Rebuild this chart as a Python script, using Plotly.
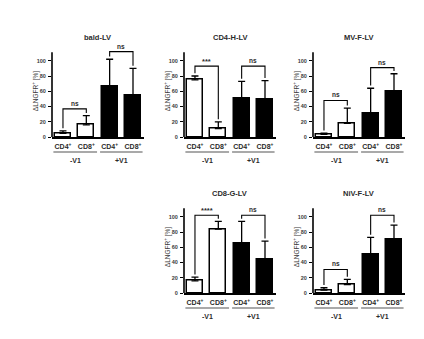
import plotly.graph_objects as go

# Transduction of CD4+ / CD8+ cells without (-V1) and with (+V1) treatment
panel_titles = ["bald-LV", "CD4-H-LV", "MV-F-LV", "CD8-G-LV", "NiV-F-LV"]
cell_types = ["CD4<sup>+</sup>", "CD8<sup>+</sup>", "CD4<sup>+</sup>", "CD8<sup>+</sup>"]
group_names = ["-V1", "+V1"]

# mean ΔLNGFR+ [%] per bar (CD4 -V1, CD8 -V1, CD4 +V1, CD8 +V1)
mean_bald = [5, 16, 66, 55]
mean_cd4h = [75, 11, 50, 49]
mean_mvf = [3.5, 18, 31, 60]
mean_cd8g = [16, 84, 65, 44]
mean_nivf = [4, 11, 50, 70]

# mean + SD (top of each error bar)
upper_bald = [8, 28, 102, 90]
upper_cd4h = [80, 20, 73, 74]
upper_mvf = [5, 38, 64, 83]
upper_cd8g = [21, 94, 94, 68]
upper_nivf = [7, 18, 73, 89]

# significance brackets: height and label for the -V1 pair and the +V1 pair
bracket_bald = [37, 112]
bracket_cd4h = [93, 93]
bracket_mvf = [48, 91]
bracket_cd8g = [102, 102]
bracket_nivf = [31, 102]

sig_bald = ["ns", "ns"]
sig_cd4h = ["***", "ns"]
sig_mvf = ["ns", "ns"]
sig_cd8g = ["****", "ns"]
sig_nivf = ["ns", "ns"]

y_ticks = [0, 20, 40, 60, 80, 100]

means = [mean_bald, mean_cd4h, mean_mvf, mean_cd8g, mean_nivf]
uppers = [upper_bald, upper_cd4h, upper_mvf, upper_cd8g, upper_nivf]
brackets = [bracket_bald, bracket_cd4h, bracket_mvf, bracket_cd8g, bracket_nivf]
sigs = [sig_bald, sig_cd4h, sig_mvf, sig_cd8g, sig_nivf]

# ---- page geometry (pixels) ----
W, H = 424, 339
px_per_unit = 0.77          # vertical pixels per 1 % on the y axis
y_max = 124                 # range top (room for brackets)
axis_top = 111              # where the drawn y axis line stops
plot_w = 91.5
plot_h = y_max * px_per_unit
# (left edge, baseline) of each panel
panel_pos = [(52, 138.3), (184, 138.3), (313, 138.3), (184, 295.7), (313, 295.7)]

FONT = "Liberation Sans, Arial, sans-serif"
TXT = "#2b2b2b"
x_pos = [0, 1, 2, 3]
x_range = [-0.47, 3.45]

fig = go.Figure()
layout = dict(
    width=W, height=H,
    margin=dict(l=0, r=0, t=0, b=0),
    paper_bgcolor="white", plot_bgcolor="white",
    showlegend=False,
    bargap=0,
)
shapes, annotations = [], []

for i in range(5):
    n = "" if i == 0 else str(i + 1)
    xa, ya = "x" + n, "y" + n
    left, base = panel_pos[i]

    fill = ["white", "white", "black", "black"]
    fig.add_trace(go.Bar(
        x=x_pos, y=means[i], width=0.68,
        xaxis=xa, yaxis=ya,
        marker=dict(color=fill, line=dict(color="black", width=1.5)),
        error_y=dict(type="data", symmetric=False,
                     array=[u - m for u, m in zip(uppers[i], means[i])],
                     arrayminus=[0] * 4,
                     color="black", thickness=1.3, width=3.5),
        hoverinfo="skip",
    ))

    layout["xaxis" + n] = dict(
        domain=[left / W, (left + plot_w) / W],
        anchor=ya, range=x_range,
        showline=True, linecolor="black", linewidth=1.6,
        showgrid=False, zeroline=False, ticks="",
        tickvals=x_pos, ticktext=cell_types,
        tickfont=dict(family=FONT, size=7, color=TXT, weight="bold"),
        ticklabelstandoff=2,
    )
    layout["yaxis" + n] = dict(
        domain=[1 - base / H, 1 - (base - plot_h) / H],
        anchor=xa, range=[0, y_max],
        showline=False, showgrid=False, zeroline=False,
        ticks="outside", ticklen=3, tickwidth=1, tickcolor="black",
        tickvals=y_ticks,
        tickfont=dict(family=FONT, size=5.5, color="#3a3a3a", weight="bold"),
        ticklabelstandoff=1,
    )

    # y axis line, stopping a little above 100
    shapes.append(dict(type="line", xref=xa + " domain", yref=ya,
                       x0=0, x1=0, y0=0, y1=axis_top,
                       line=dict(color="black", width=1.6)))

    # group underlines and labels
    for g, (gx0, gx1) in enumerate([(-0.41, 1.46), (1.59, 3.41)]):
        shapes.append(dict(type="line", xref=xa, yref=ya + " domain",
                           x0=gx0, x1=gx1, y0=-0.157, y1=-0.157,
                           line=dict(color="#8c8c8c", width=1.5)))
        annotations.append(dict(
            xref=xa, yref=ya + " domain", x=(gx0 + gx1) / 2, y=-0.245,
            xanchor="center", yanchor="middle",
            text=group_names[g], showarrow=False,
            font=dict(family=FONT, size=7, color=TXT, weight="bold")))

    # significance brackets
    for g in range(2):
        a, b = 2 * g, 2 * g + 1
        h = brackets[i][g]
        ya0 = uppers[i][a] + 3.5
        yb0 = uppers[i][b] + 3.5
        shapes.append(dict(
            type="path", xref=xa, yref=ya,
            path=f"M {x_pos[a]},{ya0} L {x_pos[a]},{h} L {x_pos[b]},{h} L {x_pos[b]},{yb0}",
            line=dict(color="black", width=1.1)))
        label = sigs[i][g]
        annotations.append(dict(
            xref=xa, yref=ya, x=(x_pos[a] + x_pos[b]) / 2, y=h,
            xanchor="center", yanchor="bottom",
            yshift=-2 if "*" in label else 0,
            text=label, showarrow=False,
            font=dict(family=FONT, size=6.5 if label == "ns" else 7.5,
                      color=TXT, weight="bold")))

    # panel title
    annotations.append(dict(
        xref=xa + " domain", yref=ya + " domain", x=0.5,
        y=(100 * px_per_unit + 23.5) / plot_h,
        text=panel_titles[i], showarrow=False,
        xanchor="center", yanchor="middle",
        font=dict(family=FONT, size=7.5, color=TXT, weight="bold")))

    # y axis title
    annotations.append(dict(
        xref=xa + " domain", yref=ya + " domain", x=-17 / plot_w, y=0.485,
        text="ΔLNGFR<sup>+</sup> [%]", showarrow=False, textangle=-90,
        xanchor="center", yanchor="middle",
        font=dict(family=FONT, size=6.5, color="#3a3a3a")))

layout["shapes"] = shapes
layout["annotations"] = annotations
fig.update_layout(**layout)
fig.write_html("out.html")
